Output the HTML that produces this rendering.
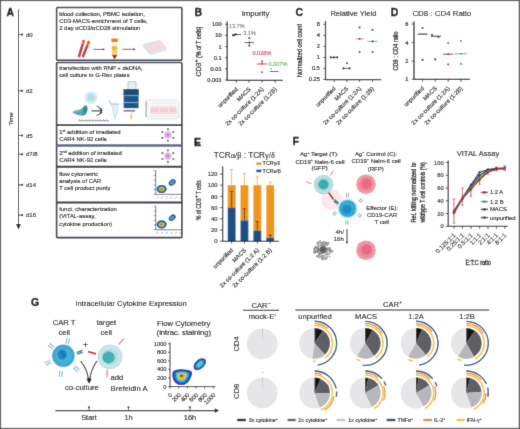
<!DOCTYPE html>
<html><head><meta charset="utf-8"><style>
html,body{margin:0;padding:0;background:#fff;}
svg{display:block;}
#wrap{width:520px;height:429px;overflow:hidden;will-change:transform;}
text{font-family:"Liberation Sans",sans-serif;}
</style></head><body><div id="wrap">
<svg width="520" height="429" viewBox="0 0 520 429">
<defs><filter id="soft" x="0" y="0" width="520" height="429" filterUnits="userSpaceOnUse"><feConvolveMatrix order="3" kernelMatrix="0.01134 0.08382 0.01134 0.08382 0.61935 0.08382 0.01134 0.08382 0.01134" divisor="1" edgeMode="duplicate" preserveAlpha="true"/></filter></defs>
<g filter="url(#soft)">
<rect width="520" height="429" fill="#fff"/>
<text x="6.60" y="15.50" font-size="10.4" stroke="#000" stroke-width="0.35" fill="#000" font-weight="bold" >A</text>
<line x1="18.50" y1="9.50" x2="18.50" y2="225.00" stroke="#231f20" stroke-width="1.0" />
<polygon points="16,224 21,224 18.5,229.5" fill="#231f20"/>
<line x1="18.50" y1="34.60" x2="22.00" y2="34.60" stroke="#231f20" stroke-width="0.8" />
<circle cx="22.10" cy="34.60" r="1.10" fill="#231f20" />
<text x="26.00" y="36.70" font-size="6" stroke="#231f20" stroke-width="0.12" >d0</text>
<line x1="18.50" y1="90.80" x2="22.00" y2="90.80" stroke="#231f20" stroke-width="0.8" />
<circle cx="22.10" cy="90.80" r="1.10" fill="#231f20" />
<text x="26.00" y="92.90" font-size="6" stroke="#231f20" stroke-width="0.12" >d2</text>
<line x1="18.50" y1="135.50" x2="22.00" y2="135.50" stroke="#231f20" stroke-width="0.8" />
<circle cx="22.10" cy="135.50" r="1.10" fill="#231f20" />
<text x="26.00" y="137.60" font-size="6" stroke="#231f20" stroke-width="0.12" >d5</text>
<line x1="18.50" y1="154.30" x2="22.00" y2="154.30" stroke="#231f20" stroke-width="0.8" />
<circle cx="22.10" cy="154.30" r="1.10" fill="#231f20" />
<text x="26.00" y="156.40" font-size="6" stroke="#231f20" stroke-width="0.12" >d7/8</text>
<line x1="18.50" y1="184.80" x2="22.00" y2="184.80" stroke="#231f20" stroke-width="0.8" />
<circle cx="22.10" cy="184.80" r="1.10" fill="#231f20" />
<text x="26.00" y="186.90" font-size="6" stroke="#231f20" stroke-width="0.12" >d14</text>
<line x1="18.50" y1="215.20" x2="22.00" y2="215.20" stroke="#231f20" stroke-width="0.8" />
<circle cx="22.10" cy="215.20" r="1.10" fill="#231f20" />
<text x="26.00" y="217.30" font-size="6" stroke="#231f20" stroke-width="0.12" >d16</text>
<text x="12.50" y="119.00" font-size="6" stroke="#231f20" stroke-width="0.12" text-anchor="middle" transform="rotate(-90 12.50 119.00)" >Time</text>
<rect x="56.6" y="7.5" width="125.3" height="52.8" rx="0.8" fill="none" stroke="#2b3142" stroke-width="1.5"/>
<rect x="56.6" y="62.5" width="125.3" height="175.1" rx="0.8" fill="none" stroke="#2b3142" stroke-width="1.6"/>
<line x1="56.60" y1="125.20" x2="181.90" y2="125.20" stroke="#2b3142" stroke-width="1.7" />
<line x1="56.60" y1="145.50" x2="181.90" y2="145.50" stroke="#5d6782" stroke-width="2.4" />
<line x1="56.60" y1="166.80" x2="181.90" y2="166.80" stroke="#2b3142" stroke-width="2.1" />
<line x1="56.60" y1="202.50" x2="181.90" y2="202.50" stroke="#2b3142" stroke-width="1.9" />
<text x="59.20" y="15.70" font-size="5.9" stroke="#231f20" stroke-width="0.12" >blood collection, PBMC isolation,</text>
<text x="59.20" y="22.60" font-size="5.9" stroke="#231f20" stroke-width="0.12" >CD3-MACS-enrichment of T cells,</text>
<text x="59.20" y="29.50" font-size="5.9" stroke="#231f20" stroke-width="0.12" >2 day &#945;CD3/&#945;CD28 stimulation</text>
<text x="59.20" y="70.20" font-size="5.9" stroke="#231f20" stroke-width="0.12" >transfection with RNP + dsDNA,</text>
<text x="59.20" y="77.25" font-size="5.9" stroke="#231f20" stroke-width="0.12" >cell culture in G-Rex plates</text>
<text x="59.20" y="134.20" font-size="5.9" stroke="#231f20" stroke-width="0.12" >1<tspan font-size="3.8" dy="-2">st</tspan><tspan dy="2"> addition of irradiated</tspan></text>
<text x="59.20" y="141.10" font-size="5.9" stroke="#231f20" stroke-width="0.12" >CAR4 NK-92 cells</text>
<text x="59.20" y="155.10" font-size="5.9" stroke="#231f20" stroke-width="0.12" >2<tspan font-size="3.8" dy="-2">nd</tspan><tspan dy="2"> addition of irradiated</tspan></text>
<text x="59.20" y="162.00" font-size="5.9" stroke="#231f20" stroke-width="0.12" >CAR4 NK-92 cells</text>
<text x="59.20" y="176.00" font-size="5.9" stroke="#231f20" stroke-width="0.12" >flow cytometric</text>
<text x="59.20" y="183.20" font-size="5.9" stroke="#231f20" stroke-width="0.12" >analysis of CAR</text>
<text x="59.20" y="190.40" font-size="5.9" stroke="#231f20" stroke-width="0.12" >T cell product purity</text>
<text x="59.20" y="211.20" font-size="5.9" stroke="#231f20" stroke-width="0.12" >funct. characterization</text>
<text x="59.20" y="218.40" font-size="5.9" stroke="#231f20" stroke-width="0.12" >(VITAL-assay,</text>
<text x="59.20" y="225.60" font-size="5.9" stroke="#231f20" stroke-width="0.12" >cytokine production)</text>
<g transform="translate(78.7,57.4) rotate(16.9)"><rect x="-1.3" y="-18.2" width="2.6" height="18.2" rx="1.2" fill="#c8383c"/><rect x="-1.4" y="-18.2" width="2.8" height="3.2" rx="0.8" fill="#e85a2c"/><rect x="-1.3" y="-14.8" width="2.6" height="0.6" fill="#f4c0b0"/></g>
<g transform="translate(82.6,57.4) rotate(21.9)"><rect x="-1.3" y="-17.7" width="2.6" height="17.7" rx="1.2" fill="#c8383c"/><rect x="-1.4" y="-17.7" width="2.8" height="3.2" rx="0.8" fill="#e85a2c"/><rect x="-1.3" y="-14.3" width="2.6" height="0.6" fill="#f4c0b0"/></g>
<line x1="93.20" y1="49.40" x2="103.50" y2="49.40" stroke="#231f20" stroke-width="0.7" />
<polygon points="102.8,48.3 105,49.4 102.8,50.5" fill="#231f20"/>
<line x1="122.60" y1="49.30" x2="134.30" y2="49.30" stroke="#231f20" stroke-width="0.7" />
<polygon points="133.60000000000002,48.199999999999996 135.8,49.3 133.60000000000002,50.4" fill="#231f20"/>
<rect x="111.4" y="38.4" width="6.4" height="3.9" rx="0.8" fill="#ef7a22"/>
<rect x="111.8" y="42.3" width="5.6" height="3.6" fill="#fbeee0"/>
<rect x="111.8" y="45.9" width="5.6" height="4.5" fill="#f3c531"/>
<rect x="112.6" y="47" width="2.2" height="3" fill="#f0a030" opacity="0.7"/>
<rect x="111.8" y="50.4" width="5.6" height="4.6" fill="#f5d070"/>
<polygon points="111.8,55 117.4,55 114.6,59.6" fill="#8e1b2b"/>
<polygon points="143.3,44.6 159.8,40.2 166.6,48.0 150.2,53.0" fill="#f2dbe0" stroke="#d8c8d0" stroke-width="0.5"/>
<polygon points="143.3,44.6 150.2,53.0 150.4,55.6 143.6,47.4" fill="#cfe2e6"/>
<polygon points="150.2,53.0 166.6,48.0 166.6,50.2 150.4,55.6" fill="#dce9ec"/>
<circle cx="91.00" cy="97.70" r="6.30" fill="#d4eaf2" />
<circle cx="91.00" cy="97.70" r="3.60" fill="#b6dbe8" />
<path d="M72.4,112.2 C75.5,109.6 79.5,110.2 82.2,108.4 C83.8,106.6 85.2,105.0 86.4,105.6 C87.8,106.8 87.8,111.2 86.2,113.4 C84.6,115.4 81.4,116.0 78.6,115.2 C76.2,114.6 74.0,113.6 72.4,112.2 Z" fill="#4eaaae" />
<path d="M82.2,108.4 C83.8,106.6 85.2,105.0 86.4,105.6 C87.8,106.8 87.8,111.2 86.2,113.4 C85.0,115.0 83.2,115.6 81.6,115.6 C84.0,113.2 84.6,110.4 82.2,108.4 Z" fill="#2f8f9c" />
<path d="M72.4,112.2 C75.5,109.6 79.5,110.2 82.2,108.4 C80.5,111.5 77.5,112.6 72.4,112.2 Z" fill="#6cc0c0" />
<line x1="91.40" y1="110.90" x2="101.60" y2="110.90" stroke="#231f20" stroke-width="1.0" />
<line x1="96.60" y1="106.00" x2="101.80" y2="109.20" stroke="#231f20" stroke-width="1.0" />
<line x1="96.60" y1="115.70" x2="101.80" y2="112.60" stroke="#231f20" stroke-width="1.0" />
<polygon points="100.6,109.6 102.9,110.9 100.6,112.2" fill="#231f20"/>
<polygon points="100.4,107.4 102.7,109.9 99.6,109.6" fill="#231f20"/>
<polygon points="100.4,114.4 102.7,111.9 99.6,112.2" fill="#231f20"/>
<path d="M78.5,120.6 q0.75,-1.2 1.5,0 q0.75,1.2 1.5,0 q0.75,-1.2 1.5,0 q0.75,1.2 1.5,0 q0.75,-1.2 1.5,0 q0.75,1.2 1.5,0 q0.75,-1.2 1.5,0 q0.75,1.2 1.5,0 q0.75,-1.2 1.5,0 q0.75,1.2 1.5,0 q0.75,-1.2 1.5,0 q0.75,1.2 1.5,0 q0.75,-1.2 1.5,0 q0.75,1.2 1.5,0 q0.75,-1.2 1.5,0 q0.75,1.2 1.5,0 q0.75,-1.2 1.5,0 q0.75,1.2 1.5,0 q0.75,-1.2 1.5,0 q0.75,1.2 1.5,0" fill="none" stroke="#5e4868" stroke-width="0.9" />
<path d="M108.5,100.5 L111.5,104.5" fill="none" stroke="#b8d4e0" stroke-width="1.4" />
<path d="M111.3,104 L118.8,104 L117.8,108 L115.4,118.8 L114.6,118.8 L112.2,108 Z" fill="#e2f1f7" stroke="#a9c8d6" stroke-width="0.5" />
<rect x="111" y="103.4" width="8.2" height="1.4" fill="#b9d6e2"/>
<rect x="128" y="81.8" width="8" height="7.5" fill="#e8eef4" stroke="#8fa4b8" stroke-width="0.6"/>
<rect x="123.6" y="89.2" width="15" height="19" rx="0.6" fill="#1f5689"/>
<rect x="123.6" y="89.2" width="15" height="5.6" fill="#1b4e80"/>
<rect x="123.6" y="95.2" width="15" height="0.9" fill="#7fb0d8"/>
<rect x="123.6" y="102" width="15" height="0.9" fill="#7fb0d8"/>
<rect x="123.6" y="110.3" width="11.5" height="1.1" fill="#3a3a40"/>
<path d="M131.6,113 L129.8,117.6 L131.4,117.6 L129.6,122 L132.6,116.4 L131,116.4 L132.4,113 Z" fill="#f0a422" />
<path d="M146,100 L177,100 L179,103 L179,117 L177,119 L148,119 L145.5,116 L145.5,102 Z" fill="#f8f8f9" stroke="#d4d8dc" stroke-width="0.7"/>
<line x1="146.20" y1="101.50" x2="146.20" y2="117.00" stroke="#9aa2aa" stroke-width="1.0" />
<line x1="148.00" y1="103.50" x2="177.50" y2="103.50" stroke="#e2e4e8" stroke-width="0.6" />
<rect x="150.5" y="106.4" width="26" height="7.8" fill="#f7d8dc"/>
<rect x="150.5" y="108.5" width="26" height="3.4" fill="#f4ccd2"/>
<line x1="159.50" y1="105.00" x2="159.50" y2="116.00" stroke="#eef0f2" stroke-width="0.7" />
<line x1="168.50" y1="105.00" x2="168.50" y2="116.00" stroke="#eef0f2" stroke-width="0.7" />
<line x1="148.00" y1="116.40" x2="177.50" y2="116.40" stroke="#e0e4e6" stroke-width="0.6" />
<circle cx="167.90" cy="135.00" r="4.20" fill="#efd8f2" />
<circle cx="167.90" cy="135.00" r="2.80" fill="#d6a8e0" />
<circle cx="167.90" cy="135.00" r="1.50" fill="#c290d4" />
<circle cx="173.36" cy="137.90" r="1.10" fill="#6a5670" />
<line x1="171.02" y1="136.80" x2="173.36" y2="137.90" stroke="#e4c8ea" stroke-width="0.5" />
<circle cx="167.90" cy="140.80" r="1.10" fill="#6a5670" />
<line x1="167.90" y1="138.60" x2="167.90" y2="140.80" stroke="#e4c8ea" stroke-width="0.5" />
<circle cx="162.44" cy="137.90" r="1.10" fill="#6a5670" />
<line x1="164.78" y1="136.80" x2="162.44" y2="137.90" stroke="#e4c8ea" stroke-width="0.5" />
<circle cx="162.44" cy="132.10" r="1.10" fill="#6a5670" />
<line x1="164.78" y1="133.20" x2="162.44" y2="132.10" stroke="#e4c8ea" stroke-width="0.5" />
<circle cx="167.90" cy="129.20" r="1.10" fill="#6a5670" />
<line x1="167.90" y1="131.40" x2="167.90" y2="129.20" stroke="#e4c8ea" stroke-width="0.5" />
<circle cx="173.36" cy="132.10" r="1.10" fill="#6a5670" />
<line x1="171.02" y1="133.20" x2="173.36" y2="132.10" stroke="#e4c8ea" stroke-width="0.5" />
<circle cx="167.90" cy="156.10" r="4.20" fill="#efd8f2" />
<circle cx="167.90" cy="156.10" r="2.80" fill="#d6a8e0" />
<circle cx="167.90" cy="156.10" r="1.50" fill="#c290d4" />
<circle cx="173.36" cy="159.00" r="1.10" fill="#6a5670" />
<line x1="171.02" y1="157.90" x2="173.36" y2="159.00" stroke="#e4c8ea" stroke-width="0.5" />
<circle cx="167.90" cy="161.90" r="1.10" fill="#6a5670" />
<line x1="167.90" y1="159.70" x2="167.90" y2="161.90" stroke="#e4c8ea" stroke-width="0.5" />
<circle cx="162.44" cy="159.00" r="1.10" fill="#6a5670" />
<line x1="164.78" y1="157.90" x2="162.44" y2="159.00" stroke="#e4c8ea" stroke-width="0.5" />
<circle cx="162.44" cy="153.20" r="1.10" fill="#6a5670" />
<line x1="164.78" y1="154.30" x2="162.44" y2="153.20" stroke="#e4c8ea" stroke-width="0.5" />
<circle cx="167.90" cy="150.30" r="1.10" fill="#6a5670" />
<line x1="167.90" y1="152.50" x2="167.90" y2="150.30" stroke="#e4c8ea" stroke-width="0.5" />
<circle cx="173.36" cy="153.20" r="1.10" fill="#6a5670" />
<line x1="171.02" y1="154.30" x2="173.36" y2="153.20" stroke="#e4c8ea" stroke-width="0.5" />
<line x1="155.70" y1="170.40" x2="155.70" y2="194.40" stroke="#231f20" stroke-width="0.6" />
<line x1="155.70" y1="194.40" x2="181.00" y2="194.40" stroke="#231f20" stroke-width="0.6" />
<line x1="153.60" y1="170.80" x2="155.70" y2="170.80" stroke="#231f20" stroke-width="0.45" />
<line x1="153.60" y1="175.50" x2="155.70" y2="175.50" stroke="#231f20" stroke-width="0.45" />
<line x1="153.60" y1="180.20" x2="155.70" y2="180.20" stroke="#231f20" stroke-width="0.45" />
<line x1="153.60" y1="184.90" x2="155.70" y2="184.90" stroke="#231f20" stroke-width="0.45" />
<line x1="153.60" y1="189.60" x2="155.70" y2="189.60" stroke="#231f20" stroke-width="0.45" />
<line x1="153.60" y1="194.30" x2="155.70" y2="194.30" stroke="#231f20" stroke-width="0.45" />
<line x1="156.50" y1="198.60" x2="158.30" y2="196.60" stroke="#555" stroke-width="0.5" />
<line x1="161.10" y1="198.60" x2="162.90" y2="196.60" stroke="#555" stroke-width="0.5" />
<line x1="165.70" y1="198.60" x2="167.50" y2="196.60" stroke="#555" stroke-width="0.5" />
<line x1="170.30" y1="198.60" x2="172.10" y2="196.60" stroke="#555" stroke-width="0.5" />
<line x1="174.90" y1="198.60" x2="176.70" y2="196.60" stroke="#555" stroke-width="0.5" />
<line x1="179.50" y1="198.60" x2="181.30" y2="196.60" stroke="#555" stroke-width="0.5" />
<ellipse cx="161.6" cy="189.0" rx="5.0" ry="4.1" fill="#1b3d6e"/>
<ellipse cx="161.6" cy="189.0" rx="3.8" ry="3.0" fill="#2a9ab4"/>
<ellipse cx="161.6" cy="189.1" rx="2.5" ry="2.0" fill="#e9c822"/>
<ellipse cx="161.4" cy="189.2" rx="1.2" ry="1.0" fill="#e04a1c"/>
<ellipse cx="172.2" cy="182.4" rx="3.9" ry="2.7" transform="rotate(-40 172.2 182.4)" fill="#1b3d6e"/>
<ellipse cx="172.2" cy="182.4" rx="2.8" ry="1.7" transform="rotate(-40 172.2 182.4)" fill="#3fa2db"/>
<line x1="155.70" y1="205.80" x2="155.70" y2="229.80" stroke="#231f20" stroke-width="0.6" />
<line x1="155.70" y1="229.80" x2="181.00" y2="229.80" stroke="#231f20" stroke-width="0.6" />
<line x1="153.60" y1="206.20" x2="155.70" y2="206.20" stroke="#231f20" stroke-width="0.45" />
<line x1="153.60" y1="210.90" x2="155.70" y2="210.90" stroke="#231f20" stroke-width="0.45" />
<line x1="153.60" y1="215.60" x2="155.70" y2="215.60" stroke="#231f20" stroke-width="0.45" />
<line x1="153.60" y1="220.30" x2="155.70" y2="220.30" stroke="#231f20" stroke-width="0.45" />
<line x1="153.60" y1="225.00" x2="155.70" y2="225.00" stroke="#231f20" stroke-width="0.45" />
<line x1="153.60" y1="229.70" x2="155.70" y2="229.70" stroke="#231f20" stroke-width="0.45" />
<line x1="156.50" y1="234.00" x2="158.30" y2="232.00" stroke="#555" stroke-width="0.5" />
<line x1="161.10" y1="234.00" x2="162.90" y2="232.00" stroke="#555" stroke-width="0.5" />
<line x1="165.70" y1="234.00" x2="167.50" y2="232.00" stroke="#555" stroke-width="0.5" />
<line x1="170.30" y1="234.00" x2="172.10" y2="232.00" stroke="#555" stroke-width="0.5" />
<line x1="174.90" y1="234.00" x2="176.70" y2="232.00" stroke="#555" stroke-width="0.5" />
<line x1="179.50" y1="234.00" x2="181.30" y2="232.00" stroke="#555" stroke-width="0.5" />
<ellipse cx="161.6" cy="224.4" rx="5.0" ry="4.1" fill="#1b3d6e"/>
<ellipse cx="161.6" cy="224.4" rx="3.8" ry="3.0" fill="#2a9ab4"/>
<ellipse cx="161.6" cy="224.5" rx="2.5" ry="2.0" fill="#e9c822"/>
<ellipse cx="161.4" cy="224.6" rx="1.2" ry="1.0" fill="#e04a1c"/>
<ellipse cx="172.2" cy="217.8" rx="3.9" ry="2.7" transform="rotate(-40 172.2 217.8)" fill="#1b3d6e"/>
<ellipse cx="172.2" cy="217.8" rx="2.8" ry="1.7" transform="rotate(-40 172.2 217.8)" fill="#3fa2db"/>
<text x="194.50" y="16.00" font-size="10.5" stroke="#000" stroke-width="0.35" fill="#000" font-weight="bold" >B</text>
<text x="295.50" y="16.00" font-size="10.5" stroke="#000" stroke-width="0.35" fill="#000" font-weight="bold" >C</text>
<text x="390.80" y="16.00" font-size="10.5" stroke="#000" stroke-width="0.35" fill="#000" font-weight="bold" >D</text>
<text x="255.50" y="16.40" font-size="7.8" stroke="#231f20" stroke-width="0.12" text-anchor="middle" >Impurity</text>
<text x="353.40" y="16.10" font-size="7.6" stroke="#231f20" stroke-width="0.12" text-anchor="middle" >Relative Yield</text>
<text x="441.80" y="16.00" font-size="7.9" stroke="#231f20" stroke-width="0.12" text-anchor="middle" >CD8 : CD4 Ratio</text>
<line x1="227.20" y1="21.60" x2="227.20" y2="80.30" stroke="#231f20" stroke-width="1.25" />
<line x1="225.00" y1="24.30" x2="227.20" y2="24.30" stroke="#231f20" stroke-width="0.8" />
<text x="221.60" y="26.30" font-size="5.7" stroke="#231f20" stroke-width="0.18" text-anchor="end" >100</text>
<line x1="225.00" y1="35.40" x2="227.20" y2="35.40" stroke="#231f20" stroke-width="0.8" />
<text x="221.60" y="37.40" font-size="5.7" stroke="#231f20" stroke-width="0.18" text-anchor="end" >10</text>
<line x1="225.00" y1="46.50" x2="227.20" y2="46.50" stroke="#231f20" stroke-width="0.8" />
<text x="221.60" y="48.50" font-size="5.7" stroke="#231f20" stroke-width="0.18" text-anchor="end" >1</text>
<line x1="225.00" y1="57.70" x2="227.20" y2="57.70" stroke="#231f20" stroke-width="0.8" />
<text x="221.60" y="59.70" font-size="5.7" stroke="#231f20" stroke-width="0.18" text-anchor="end" >0.1</text>
<line x1="225.00" y1="68.80" x2="227.20" y2="68.80" stroke="#231f20" stroke-width="0.8" />
<text x="221.60" y="70.80" font-size="5.7" stroke="#231f20" stroke-width="0.18" text-anchor="end" >0.01</text>
<line x1="225.00" y1="80.00" x2="227.20" y2="80.00" stroke="#231f20" stroke-width="0.8" />
<text x="221.60" y="82.00" font-size="5.7" stroke="#231f20" stroke-width="0.18" text-anchor="end" >0.001</text>
<line x1="226.80" y1="80.30" x2="282.80" y2="80.30" stroke="#231f20" stroke-width="1.25" />
<line x1="236.30" y1="80.30" x2="236.30" y2="82.70" stroke="#231f20" stroke-width="0.8" />
<text x="238.30" y="89.70" font-size="5.9" stroke="#231f20" stroke-width="0.12" text-anchor="end" transform="rotate(-45 238.30 89.70)" >unpurified</text>
<line x1="249.00" y1="80.30" x2="249.00" y2="82.70" stroke="#231f20" stroke-width="0.8" />
<text x="251.00" y="89.70" font-size="5.9" stroke="#231f20" stroke-width="0.12" text-anchor="end" transform="rotate(-45 251.00 89.70)" >MACS</text>
<line x1="262.00" y1="80.30" x2="262.00" y2="82.70" stroke="#231f20" stroke-width="0.8" />
<text x="264.00" y="89.70" font-size="5.9" stroke="#231f20" stroke-width="0.12" text-anchor="end" transform="rotate(-45 264.00 89.70)" >2x co-culture (1:2A)</text>
<line x1="275.10" y1="80.30" x2="275.10" y2="82.70" stroke="#231f20" stroke-width="0.8" />
<text x="277.10" y="89.70" font-size="5.9" stroke="#231f20" stroke-width="0.12" text-anchor="end" transform="rotate(-45 277.10 89.70)" >2x co-culture (1:2B)</text>
<text transform="translate(201.2,51.6) rotate(-90)" text-anchor="middle" font-size="7" fill="#231f20" stroke="#231f20" stroke-width="0.3">CD3<tspan font-size="5.2" dy="-3">+</tspan><tspan font-size="6.4" dy="3" textLength="33" lengthAdjust="spacingAndGlyphs"> (% of T cells)</tspan></text>
<line x1="232.20" y1="34.60" x2="241.00" y2="34.60" stroke="#2b2b2b" stroke-width="0.9" />
<circle cx="233.20" cy="35.40" r="1.05" fill="#2b2b2b" />
<circle cx="235.80" cy="34.20" r="1.05" fill="#2b2b2b" />
<circle cx="234.60" cy="34.90" r="1.05" fill="#2b2b2b" />
<text x="228.80" y="28.40" font-size="5.6" stroke="#7c7290" stroke-width="0.12" fill="#7c7290" >13.7%</text>
<text x="243.20" y="34.90" font-size="5.6" stroke="#7c6c94" stroke-width="0.12" fill="#7c6c94" >3.1%</text>
<line x1="244.80" y1="42.60" x2="254.00" y2="42.60" stroke="#3c2a58" stroke-width="0.9" />
<circle cx="249.30" cy="38.10" r="1.05" fill="#3c2a58" />
<circle cx="249.30" cy="45.60" r="1.05" fill="#3c2a58" />
<circle cx="249.30" cy="42.60" r="1.05" fill="#3c2a58" />
<text x="252.40" y="55.20" font-size="5.6" stroke="#d4405c" stroke-width="0.12" fill="#d4405c" >0.028%</text>
<line x1="257.00" y1="64.00" x2="267.20" y2="64.00" stroke="#c0304c" stroke-width="0.9" />
<circle cx="262.00" cy="61.20" r="1.05" fill="#c0304c" />
<circle cx="262.00" cy="72.30" r="1.05" fill="#c0304c" />
<circle cx="262.00" cy="63.60" r="1.05" fill="#c0304c" />
<text x="268.40" y="65.60" font-size="5.6" stroke="#5cb85c" stroke-width="0.12" fill="#5cb85c" >0.007%</text>
<line x1="269.80" y1="71.50" x2="278.50" y2="71.50" stroke="#263a2a" stroke-width="0.9" />
<circle cx="271.00" cy="68.80" r="0.80" fill="#3aa05a" />
<line x1="325.50" y1="20.80" x2="325.50" y2="79.60" stroke="#231f20" stroke-width="1.25" />
<line x1="323.30" y1="24.30" x2="325.50" y2="24.30" stroke="#231f20" stroke-width="0.8" />
<text x="319.80" y="26.30" font-size="5.7" stroke="#231f20" stroke-width="0.18" text-anchor="end" >8</text>
<line x1="323.30" y1="35.40" x2="325.50" y2="35.40" stroke="#231f20" stroke-width="0.8" />
<text x="319.80" y="37.40" font-size="5.7" stroke="#231f20" stroke-width="0.18" text-anchor="end" >4</text>
<line x1="323.30" y1="46.40" x2="325.50" y2="46.40" stroke="#231f20" stroke-width="0.8" />
<text x="319.80" y="48.40" font-size="5.7" stroke="#231f20" stroke-width="0.18" text-anchor="end" >2</text>
<line x1="323.30" y1="57.40" x2="325.50" y2="57.40" stroke="#231f20" stroke-width="0.8" />
<text x="319.80" y="59.40" font-size="5.7" stroke="#231f20" stroke-width="0.18" text-anchor="end" >1</text>
<line x1="323.30" y1="68.40" x2="325.50" y2="68.40" stroke="#231f20" stroke-width="0.8" />
<text x="319.80" y="70.40" font-size="5.7" stroke="#231f20" stroke-width="0.18" text-anchor="end" >0.5</text>
<line x1="323.30" y1="79.40" x2="325.50" y2="79.40" stroke="#231f20" stroke-width="0.8" />
<text x="319.80" y="81.40" font-size="5.7" stroke="#231f20" stroke-width="0.18" text-anchor="end" >0.25</text>
<line x1="325.10" y1="79.60" x2="381.20" y2="79.60" stroke="#231f20" stroke-width="1.25" />
<line x1="334.20" y1="79.60" x2="334.20" y2="82.00" stroke="#231f20" stroke-width="0.8" />
<text x="336.20" y="89.00" font-size="5.9" stroke="#231f20" stroke-width="0.12" text-anchor="end" transform="rotate(-45 336.20 89.00)" >unpurified</text>
<line x1="346.90" y1="79.60" x2="346.90" y2="82.00" stroke="#231f20" stroke-width="0.8" />
<text x="348.90" y="89.00" font-size="5.9" stroke="#231f20" stroke-width="0.12" text-anchor="end" transform="rotate(-45 348.90 89.00)" >MACS</text>
<line x1="359.60" y1="79.60" x2="359.60" y2="82.00" stroke="#231f20" stroke-width="0.8" />
<text x="361.60" y="89.00" font-size="5.9" stroke="#231f20" stroke-width="0.12" text-anchor="end" transform="rotate(-45 361.60 89.00)" >2x co-culture (1:2A)</text>
<line x1="372.50" y1="79.60" x2="372.50" y2="82.00" stroke="#231f20" stroke-width="0.8" />
<text x="374.50" y="89.00" font-size="5.9" stroke="#231f20" stroke-width="0.12" text-anchor="end" transform="rotate(-45 374.50 89.00)" >2x co-culture (1:2B)</text>
<text x="302.40" y="50.50" font-size="7.2" stroke="#231f20" stroke-width="0.28" text-anchor="middle" textLength="53" lengthAdjust="spacingAndGlyphs" transform="rotate(-90 302.40 50.50)" >Normalized cell count</text>
<line x1="330.40" y1="57.40" x2="337.60" y2="57.40" stroke="#2b2b2b" stroke-width="0.9" />
<circle cx="330.70" cy="57.40" r="1.05" fill="#2b2b2b" />
<circle cx="334.00" cy="57.40" r="1.05" fill="#2b2b2b" />
<circle cx="337.20" cy="57.40" r="1.05" fill="#2b2b2b" />
<circle cx="346.90" cy="63.20" r="1.05" fill="#2b2b2b" />
<line x1="343.20" y1="68.40" x2="349.80" y2="68.40" stroke="#2b2b2b" stroke-width="0.9" />
<circle cx="343.40" cy="68.40" r="1.05" fill="#2b2b2b" />
<circle cx="349.60" cy="68.40" r="1.05" fill="#2b2b2b" />
<circle cx="359.60" cy="27.40" r="1.05" fill="#8c2a40" />
<circle cx="359.60" cy="52.10" r="1.05" fill="#8c2a40" />
<line x1="355.60" y1="38.90" x2="364.00" y2="38.90" stroke="#e27a8a" stroke-width="0.9" />
<circle cx="359.60" cy="38.90" r="1.05" fill="#8c2a40" />
<circle cx="372.50" cy="29.90" r="1.05" fill="#245a58" />
<circle cx="372.50" cy="52.10" r="1.05" fill="#245a58" />
<line x1="367.40" y1="41.40" x2="377.60" y2="41.40" stroke="#5ab4aa" stroke-width="0.9" />
<circle cx="372.50" cy="41.40" r="1.05" fill="#245a58" />
<line x1="414.00" y1="21.40" x2="414.00" y2="79.40" stroke="#231f20" stroke-width="1.25" />
<line x1="411.80" y1="24.00" x2="414.00" y2="24.00" stroke="#231f20" stroke-width="0.8" />
<text x="408.40" y="26.00" font-size="5.7" stroke="#231f20" stroke-width="0.18" text-anchor="end" >6</text>
<line x1="411.80" y1="42.60" x2="414.00" y2="42.60" stroke="#231f20" stroke-width="0.8" />
<text x="408.40" y="44.60" font-size="5.7" stroke="#231f20" stroke-width="0.18" text-anchor="end" >4</text>
<line x1="411.80" y1="61.20" x2="414.00" y2="61.20" stroke="#231f20" stroke-width="0.8" />
<text x="408.40" y="63.20" font-size="5.7" stroke="#231f20" stroke-width="0.18" text-anchor="end" >2</text>
<line x1="411.80" y1="79.20" x2="414.00" y2="79.20" stroke="#231f20" stroke-width="0.8" />
<text x="408.40" y="81.20" font-size="5.7" stroke="#231f20" stroke-width="0.18" text-anchor="end" >1</text>
<line x1="413.60" y1="79.40" x2="470.00" y2="79.40" stroke="#231f20" stroke-width="1.25" />
<line x1="422.50" y1="79.40" x2="422.50" y2="81.80" stroke="#231f20" stroke-width="0.8" />
<text x="424.50" y="88.80" font-size="5.9" stroke="#231f20" stroke-width="0.12" text-anchor="end" transform="rotate(-45 424.50 88.80)" >unpurified</text>
<line x1="435.20" y1="79.40" x2="435.20" y2="81.80" stroke="#231f20" stroke-width="0.8" />
<text x="437.20" y="88.80" font-size="5.9" stroke="#231f20" stroke-width="0.12" text-anchor="end" transform="rotate(-45 437.20 88.80)" >MACS</text>
<line x1="448.20" y1="79.40" x2="448.20" y2="81.80" stroke="#231f20" stroke-width="0.8" />
<text x="450.20" y="88.80" font-size="5.9" stroke="#231f20" stroke-width="0.12" text-anchor="end" transform="rotate(-45 450.20 88.80)" >2x co-culture (1:2A)</text>
<line x1="461.00" y1="79.40" x2="461.00" y2="81.80" stroke="#231f20" stroke-width="0.8" />
<text x="463.00" y="88.80" font-size="5.9" stroke="#231f20" stroke-width="0.12" text-anchor="end" transform="rotate(-45 463.00 88.80)" >2x co-culture (1:2B)</text>
<text x="398.40" y="50.90" font-size="7.2" stroke="#231f20" stroke-width="0.28" text-anchor="middle" textLength="39" lengthAdjust="spacingAndGlyphs" transform="rotate(-90 398.40 50.90)" >CD8 : CD4 ratio</text>
<circle cx="422.50" cy="28.00" r="1.05" fill="#2b2b2b" />
<circle cx="422.50" cy="59.90" r="1.05" fill="#2b2b2b" />
<line x1="417.80" y1="34.10" x2="427.40" y2="34.10" stroke="#111" stroke-width="1.0" />
<circle cx="431.90" cy="34.90" r="1.05" fill="#2b2b2b" />
<circle cx="438.40" cy="37.00" r="1.05" fill="#2b2b2b" />
<circle cx="435.20" cy="59.40" r="1.05" fill="#2b2b2b" />
<line x1="431.20" y1="36.20" x2="441.00" y2="36.20" stroke="#2a2448" stroke-width="1.0" />
<circle cx="448.20" cy="43.10" r="1.05" fill="#c0304c" />
<circle cx="448.20" cy="64.40" r="1.05" fill="#c0304c" />
<line x1="443.00" y1="54.20" x2="453.40" y2="54.20" stroke="#b02a44" stroke-width="1.0" />
<circle cx="448.20" cy="54.20" r="1.05" fill="#8c2a40" />
<circle cx="461.00" cy="41.10" r="1.05" fill="#3a9a5a" />
<circle cx="461.00" cy="63.90" r="1.05" fill="#3a9a5a" />
<line x1="455.00" y1="53.80" x2="467.00" y2="53.80" stroke="#4aaa6a" stroke-width="0.9" />
<circle cx="461.00" cy="53.80" r="0.80" fill="#2a6a4a" />
<text x="193.90" y="145.60" font-size="10.5" stroke="#000" stroke-width="0.35" fill="#000" font-weight="bold" >E</text>
<text x="244.30" y="158.40" font-size="8.2" stroke="#231f20" stroke-width="0.12" text-anchor="middle" >TCR<tspan font-family="Liberation Serif">&#945;/&#946;</tspan> : TCR<tspan font-family="Liberation Serif">&#947;/&#948;</tspan></text>
<line x1="222.70" y1="166.20" x2="222.70" y2="241.20" stroke="#231f20" stroke-width="1.1" />
<line x1="220.00" y1="241.20" x2="222.70" y2="241.20" stroke="#231f20" stroke-width="0.8" />
<text x="217.60" y="243.30" font-size="5.9" stroke="#231f20" stroke-width="0.12" text-anchor="end" >0</text>
<line x1="220.00" y1="230.00" x2="222.70" y2="230.00" stroke="#231f20" stroke-width="0.8" />
<text x="217.60" y="232.10" font-size="5.9" stroke="#231f20" stroke-width="0.12" text-anchor="end" >20</text>
<line x1="220.00" y1="218.80" x2="222.70" y2="218.80" stroke="#231f20" stroke-width="0.8" />
<text x="217.60" y="220.90" font-size="5.9" stroke="#231f20" stroke-width="0.12" text-anchor="end" >40</text>
<line x1="220.00" y1="207.60" x2="222.70" y2="207.60" stroke="#231f20" stroke-width="0.8" />
<text x="217.60" y="209.70" font-size="5.9" stroke="#231f20" stroke-width="0.12" text-anchor="end" >60</text>
<line x1="220.00" y1="196.40" x2="222.70" y2="196.40" stroke="#231f20" stroke-width="0.8" />
<text x="217.60" y="198.50" font-size="5.9" stroke="#231f20" stroke-width="0.12" text-anchor="end" >80</text>
<line x1="220.00" y1="185.20" x2="222.70" y2="185.20" stroke="#231f20" stroke-width="0.8" />
<text x="217.60" y="187.30" font-size="5.9" stroke="#231f20" stroke-width="0.12" text-anchor="end" >100</text>
<line x1="220.00" y1="174.00" x2="222.70" y2="174.00" stroke="#231f20" stroke-width="0.8" />
<text x="217.60" y="176.10" font-size="5.9" stroke="#231f20" stroke-width="0.12" text-anchor="end" >120</text>
<rect x="227.70" y="185.20" width="7.90" height="22.40" fill="#f0961e" />
<rect x="227.70" y="207.60" width="7.90" height="33.60" fill="#1d4f86" />
<line x1="231.65" y1="185.20" x2="231.65" y2="169.52" stroke="#f0961e" stroke-width="0.7" />
<line x1="230.05" y1="169.52" x2="233.25" y2="169.52" stroke="#f0961e" stroke-width="0.7" />
<line x1="231.65" y1="207.60" x2="231.65" y2="191.36" stroke="#2a2a3a" stroke-width="0.7" />
<line x1="230.05" y1="191.36" x2="233.25" y2="191.36" stroke="#2a2a3a" stroke-width="0.7" />
<rect x="240.50" y="185.20" width="7.90" height="35.28" fill="#f0961e" />
<rect x="240.50" y="220.48" width="7.90" height="20.72" fill="#1d4f86" />
<line x1="244.45" y1="185.20" x2="244.45" y2="173.44" stroke="#f0961e" stroke-width="0.7" />
<line x1="242.85" y1="173.44" x2="246.05" y2="173.44" stroke="#f0961e" stroke-width="0.7" />
<line x1="244.45" y1="220.48" x2="244.45" y2="208.72" stroke="#2a2a3a" stroke-width="0.7" />
<line x1="242.85" y1="208.72" x2="246.05" y2="208.72" stroke="#2a2a3a" stroke-width="0.7" />
<rect x="253.40" y="185.20" width="7.90" height="45.36" fill="#f0961e" />
<rect x="253.40" y="230.56" width="7.90" height="10.64" fill="#1d4f86" />
<line x1="257.35" y1="185.20" x2="257.35" y2="176.80" stroke="#f0961e" stroke-width="0.7" />
<line x1="255.75" y1="176.80" x2="258.95" y2="176.80" stroke="#f0961e" stroke-width="0.7" />
<line x1="257.35" y1="230.56" x2="257.35" y2="221.60" stroke="#2a2a3a" stroke-width="0.7" />
<line x1="255.75" y1="221.60" x2="258.95" y2="221.60" stroke="#2a2a3a" stroke-width="0.7" />
<rect x="266.30" y="185.20" width="7.90" height="52.64" fill="#f0961e" />
<rect x="266.30" y="237.84" width="7.90" height="3.36" fill="#1d4f86" />
<line x1="270.25" y1="185.20" x2="270.25" y2="182.40" stroke="#f0961e" stroke-width="0.7" />
<line x1="268.65" y1="182.40" x2="271.85" y2="182.40" stroke="#f0961e" stroke-width="0.7" />
<line x1="270.25" y1="237.84" x2="270.25" y2="235.04" stroke="#2a2a3a" stroke-width="0.7" />
<line x1="268.65" y1="235.04" x2="271.85" y2="235.04" stroke="#2a2a3a" stroke-width="0.7" />
<line x1="222.20" y1="241.20" x2="279.00" y2="241.20" stroke="#231f20" stroke-width="1.1" />
<line x1="231.65" y1="241.20" x2="231.65" y2="243.60" stroke="#231f20" stroke-width="0.8" />
<text x="233.65" y="250.60" font-size="5.9" stroke="#231f20" stroke-width="0.12" text-anchor="end" transform="rotate(-45 233.65 250.60)" >unpurified</text>
<line x1="244.45" y1="241.20" x2="244.45" y2="243.60" stroke="#231f20" stroke-width="0.8" />
<text x="246.45" y="250.60" font-size="5.9" stroke="#231f20" stroke-width="0.12" text-anchor="end" transform="rotate(-45 246.45 250.60)" >MACS</text>
<line x1="257.35" y1="241.20" x2="257.35" y2="243.60" stroke="#231f20" stroke-width="0.8" />
<text x="259.35" y="250.60" font-size="5.9" stroke="#231f20" stroke-width="0.12" text-anchor="end" transform="rotate(-45 259.35 250.60)" >2x co-culture (1:2 A)</text>
<line x1="270.25" y1="241.20" x2="270.25" y2="243.60" stroke="#231f20" stroke-width="0.8" />
<text x="272.25" y="250.60" font-size="5.9" stroke="#231f20" stroke-width="0.12" text-anchor="end" transform="rotate(-45 272.25 250.60)" >2x co-culture (1:2 B)</text>
<rect x="256.40" y="162.40" width="5.00" height="2.60" fill="#f0961e" />
<text x="262.60" y="165.30" font-size="5.4" stroke="#231f20" stroke-width="0.12" >TCR<tspan font-family="Liberation Serif">&#947;/&#948;</tspan></text>
<rect x="256.40" y="169.60" width="5.00" height="2.60" fill="#1d4f86" />
<text x="262.60" y="172.50" font-size="5.4" stroke="#231f20" stroke-width="0.12" >TCR<tspan font-family="Liberation Serif">&#945;/&#946;</tspan></text>
<text transform="translate(200.8,200.4) rotate(-90)" text-anchor="middle" font-size="8" fill="#231f20" stroke="#231f20" stroke-width="0.3"><tspan textLength="22" lengthAdjust="spacingAndGlyphs">% of CD3</tspan><tspan font-size="5" dy="-2.8">+</tspan><tspan dy="2.8" textLength="15" lengthAdjust="spacingAndGlyphs"> T cells</tspan></text>
<text x="292.40" y="145.40" font-size="10.5" stroke="#000" stroke-width="0.35" fill="#000" font-weight="bold" >F</text>
<text x="319.30" y="156.20" font-size="6" stroke="#231f20" stroke-width="0.12" text-anchor="middle" >Ag<tspan font-size="3.8" dy="-2.2">+</tspan><tspan dy="2.2"> Target (T):</tspan></text>
<text x="320.00" y="163.60" font-size="6" stroke="#231f20" stroke-width="0.12" text-anchor="middle" >CD19<tspan font-size="3.8" dy="-2.2">+</tspan><tspan dy="2.2"> Nalm-6 cell</tspan></text>
<text x="319.60" y="170.40" font-size="6" stroke="#231f20" stroke-width="0.12" text-anchor="middle" >(GFP)</text>
<text x="376.10" y="156.00" font-size="6" stroke="#231f20" stroke-width="0.12" text-anchor="middle" >Ag<tspan font-size="3.8" dy="-2.2">&#8722;</tspan><tspan dy="2.2"> Control (C):</tspan></text>
<text x="376.10" y="163.40" font-size="6" stroke="#231f20" stroke-width="0.12" text-anchor="middle" >CD19<tspan font-size="3.8" dy="-2.2">&#8722;</tspan><tspan dy="2.2"> Nalm-6 cell</tspan></text>
<text x="375.70" y="170.70" font-size="6" stroke="#231f20" stroke-width="0.12" text-anchor="middle" >(RFP)</text>
<text x="382.20" y="210.00" font-size="6" stroke="#231f20" stroke-width="0.12" text-anchor="middle" >Effector (E):</text>
<text x="382.00" y="217.20" font-size="6" stroke="#231f20" stroke-width="0.12" text-anchor="middle" >CD19-CAR</text>
<text x="381.70" y="224.00" font-size="6" stroke="#231f20" stroke-width="0.12" text-anchor="middle" >T cell</text>
<text x="343.80" y="234.00" font-size="6" stroke="#231f20" stroke-width="0.12" text-anchor="end" >4h/</text>
<text x="343.80" y="240.80" font-size="6" stroke="#231f20" stroke-width="0.12" text-anchor="end" >16h</text>
<line x1="347.00" y1="229.00" x2="347.00" y2="242.40" stroke="#231f20" stroke-width="0.9" />
<circle cx="347.00" cy="242.60" r="1.00" fill="#231f20" />
<defs><radialGradient id="halo_p"><stop offset="0" stop-color="#fdeef1"/><stop offset="0.8" stop-color="#fce6ea"/><stop offset="1" stop-color="#fdeef1" stop-opacity="0"/></radialGradient><radialGradient id="halo_b"><stop offset="0.7" stop-color="#cdeef9"/><stop offset="1" stop-color="#eaf7fc" stop-opacity="0"/></radialGradient></defs>
<circle cx="331.50" cy="199.50" r="11.50" fill="url(#halo_p)" />
<line x1="330.30" y1="175.50" x2="333.60" y2="170.60" stroke="#e89aaa" stroke-width="1.3" />
<line x1="306.20" y1="182.20" x2="311.50" y2="183.60" stroke="#e89aaa" stroke-width="1.3" />
<circle cx="323.50" cy="184.50" r="9.80" fill="#a9d6da" />
<circle cx="323.50" cy="184.50" r="8.80" fill="#bfe2e5" />
<circle cx="323.50" cy="184.50" r="7.00" fill="#a8d6da" />
<circle cx="323.50" cy="184.50" r="5.00" fill="#36aead" />
<line x1="328.80" y1="192.60" x2="333.30" y2="199.40" stroke="#a8102a" stroke-width="1.7" />
<line x1="334.20" y1="199.60" x2="338.80" y2="203.00" stroke="#1c6a62" stroke-width="1.3" />
<line x1="333.60" y1="201.00" x2="338.20" y2="204.40" stroke="#1c6a62" stroke-width="1.3" />
<circle cx="347.60" cy="208.60" r="12.00" fill="url(#halo_b)" />
<line x1="348.50" y1="193.00" x2="348.50" y2="197.40" stroke="#98aab4" stroke-width="1.05" />
<line x1="346.50" y1="193.00" x2="346.50" y2="197.40" stroke="#98aab4" stroke-width="1.05" />
<line x1="362.86" y1="199.75" x2="359.75" y2="202.86" stroke="#98aab4" stroke-width="1.05" />
<line x1="361.45" y1="198.34" x2="358.34" y2="201.45" stroke="#98aab4" stroke-width="1.05" />
<line x1="358.95" y1="213.34" x2="362.06" y2="216.45" stroke="#98aab4" stroke-width="1.05" />
<line x1="357.54" y1="214.75" x2="360.65" y2="217.86" stroke="#98aab4" stroke-width="1.05" />
<line x1="347.80" y1="220.20" x2="347.80" y2="224.60" stroke="#98aab4" stroke-width="1.05" />
<line x1="345.80" y1="220.20" x2="345.80" y2="224.60" stroke="#98aab4" stroke-width="1.05" />
<line x1="336.86" y1="212.75" x2="333.75" y2="215.86" stroke="#98aab4" stroke-width="1.05" />
<line x1="335.45" y1="211.34" x2="332.34" y2="214.45" stroke="#98aab4" stroke-width="1.05" />
<circle cx="347.60" cy="208.60" r="9.20" fill="#78cdea" />
<circle cx="347.60" cy="208.60" r="8.20" fill="#2ea6d4" />
<circle cx="347.60" cy="208.60" r="6.40" fill="#35acd9" />
<circle cx="347.00" cy="209.30" r="4.60" fill="#1c8cc2" />
<circle cx="317.81" cy="244.45" r="0.72" fill="#b0b0b0" />
<circle cx="314.70" cy="251.81" r="1.33" fill="#8c8c8c" />
<circle cx="328.00" cy="253.86" r="0.97" fill="#9a9a9a" />
<circle cx="326.84" cy="252.46" r="0.99" fill="#9a9a9a" />
<circle cx="326.92" cy="257.64" r="0.81" fill="#a6a6a6" />
<circle cx="324.31" cy="246.93" r="1.01" fill="#b0b0b0" />
<circle cx="329.51" cy="256.59" r="0.85" fill="#8c8c8c" />
<circle cx="325.36" cy="258.80" r="0.90" fill="#9a9a9a" />
<circle cx="329.76" cy="248.33" r="0.83" fill="#9a9a9a" />
<circle cx="327.09" cy="249.16" r="0.91" fill="#a6a6a6" />
<circle cx="321.20" cy="252.52" r="0.88" fill="#9a9a9a" />
<circle cx="319.35" cy="257.07" r="0.70" fill="#b0b0b0" />
<circle cx="321.18" cy="245.35" r="0.95" fill="#868686" />
<circle cx="320.80" cy="256.98" r="1.04" fill="#9a9a9a" />
<circle cx="322.87" cy="248.07" r="1.36" fill="#8c8c8c" />
<circle cx="319.90" cy="254.26" r="1.25" fill="#b0b0b0" />
<circle cx="318.86" cy="254.97" r="1.02" fill="#8c8c8c" />
<circle cx="321.54" cy="243.05" r="0.78" fill="#9a9a9a" />
<circle cx="323.60" cy="258.14" r="0.94" fill="#a6a6a6" />
<circle cx="319.45" cy="255.00" r="0.78" fill="#a6a6a6" />
<circle cx="323.32" cy="241.78" r="0.73" fill="#868686" />
<circle cx="325.72" cy="249.08" r="1.06" fill="#868686" />
<circle cx="321.31" cy="252.35" r="1.35" fill="#868686" />
<circle cx="318.74" cy="248.54" r="0.91" fill="#868686" />
<circle cx="325.55" cy="243.12" r="1.40" fill="#868686" />
<circle cx="324.32" cy="251.38" r="1.07" fill="#b0b0b0" />
<circle cx="319.94" cy="252.23" r="0.94" fill="#b0b0b0" />
<circle cx="323.39" cy="257.17" r="0.74" fill="#9a9a9a" />
<circle cx="324.61" cy="249.19" r="0.93" fill="#a6a6a6" />
<circle cx="325.83" cy="258.68" r="1.36" fill="#b0b0b0" />
<circle cx="317.89" cy="244.00" r="0.82" fill="#8c8c8c" />
<circle cx="322.05" cy="251.29" r="0.91" fill="#a6a6a6" />
<circle cx="314.60" cy="252.57" r="1.38" fill="#9a9a9a" />
<circle cx="317.46" cy="251.68" r="1.04" fill="#868686" />
<circle cx="321.98" cy="255.30" r="0.78" fill="#9a9a9a" />
<circle cx="326.24" cy="244.05" r="1.14" fill="#9a9a9a" />
<circle cx="318.33" cy="249.92" r="1.04" fill="#8c8c8c" />
<circle cx="316.82" cy="249.27" r="0.95" fill="#b0b0b0" />
<circle cx="325.19" cy="242.11" r="1.16" fill="#b0b0b0" />
<circle cx="323.72" cy="244.64" r="1.28" fill="#868686" />
<circle cx="322.55" cy="258.96" r="1.37" fill="#868686" />
<circle cx="321.49" cy="252.91" r="1.03" fill="#8c8c8c" />
<circle cx="324.14" cy="244.99" r="1.02" fill="#868686" />
<circle cx="326.35" cy="243.28" r="0.94" fill="#868686" />
<circle cx="318.59" cy="243.78" r="0.95" fill="#a6a6a6" />
<circle cx="328.10" cy="242.79" r="1.38" fill="#a6a6a6" />
<circle cx="329.57" cy="248.17" r="1.39" fill="#b0b0b0" />
<circle cx="325.07" cy="254.89" r="0.90" fill="#a6a6a6" />
<circle cx="329.90" cy="253.41" r="0.82" fill="#a6a6a6" />
<circle cx="324.69" cy="243.20" r="0.91" fill="#a6a6a6" />
<circle cx="315.36" cy="247.11" r="1.20" fill="#868686" />
<circle cx="326.71" cy="250.48" r="1.14" fill="#a6a6a6" />
<circle cx="326.73" cy="257.07" r="1.14" fill="#9a9a9a" />
<circle cx="329.28" cy="251.48" r="0.82" fill="#9a9a9a" />
<circle cx="325.53" cy="248.18" r="1.04" fill="#9a9a9a" />
<circle cx="317.98" cy="248.20" r="0.97" fill="#868686" />
<circle cx="318.15" cy="245.45" r="1.20" fill="#9a9a9a" />
<circle cx="319.77" cy="253.58" r="1.30" fill="#868686" />
<circle cx="328.41" cy="244.32" r="0.96" fill="#b0b0b0" />
<circle cx="330.25" cy="251.48" r="0.91" fill="#8c8c8c" />
<circle cx="314.48" cy="249.19" r="1.37" fill="#868686" />
<circle cx="325.78" cy="244.72" r="1.15" fill="#b0b0b0" />
<circle cx="321.25" cy="252.20" r="0.97" fill="#b0b0b0" />
<circle cx="319.65" cy="250.44" r="1.13" fill="#9a9a9a" />
<circle cx="318.27" cy="256.86" r="0.97" fill="#8c8c8c" />
<circle cx="319.37" cy="257.69" r="0.80" fill="#b0b0b0" />
<circle cx="317.47" cy="243.63" r="1.00" fill="#a6a6a6" />
<circle cx="329.57" cy="248.99" r="1.38" fill="#a6a6a6" />
<circle cx="316.85" cy="256.07" r="1.12" fill="#9a9a9a" />
<circle cx="322.84" cy="258.99" r="0.88" fill="#a6a6a6" />
<circle cx="332.25" cy="251.00" r="1.04" fill="#868686" />
<circle cx="322.01" cy="255.86" r="1.16" fill="#8c8c8c" />
<circle cx="327.52" cy="248.86" r="1.25" fill="#8c8c8c" />
<circle cx="323.80" cy="249.15" r="1.09" fill="#b0b0b0" />
<circle cx="323.65" cy="256.00" r="0.87" fill="#8c8c8c" />
<circle cx="323.03" cy="253.18" r="0.91" fill="#868686" />
<circle cx="318.65" cy="246.07" r="1.32" fill="#b0b0b0" />
<circle cx="324.15" cy="249.32" r="0.91" fill="#9a9a9a" />
<circle cx="318.46" cy="248.84" r="1.21" fill="#868686" />
<circle cx="328.49" cy="250.76" r="0.79" fill="#b0b0b0" />
<circle cx="330.04" cy="250.02" r="1.32" fill="#8c8c8c" />
<circle cx="322.54" cy="249.65" r="1.12" fill="#a6a6a6" />
<circle cx="320.05" cy="241.59" r="1.30" fill="#a6a6a6" />
<circle cx="326.71" cy="244.76" r="1.33" fill="#9a9a9a" />
<circle cx="315.69" cy="251.62" r="1.29" fill="#868686" />
<circle cx="321.42" cy="244.44" r="1.15" fill="#868686" />
<circle cx="318.63" cy="250.73" r="1.03" fill="#9a9a9a" />
<circle cx="317.43" cy="248.00" r="1.08" fill="#868686" />
<circle cx="317.54" cy="252.86" r="0.75" fill="#8c8c8c" />
<circle cx="324.43" cy="258.08" r="1.16" fill="#8c8c8c" />
<circle cx="331.00" cy="251.13" r="1.40" fill="#8c8c8c" />
<circle cx="322.87" cy="248.23" r="0.85" fill="#8c8c8c" />
<circle cx="317.94" cy="242.80" r="1.40" fill="#9a9a9a" />
<circle cx="321.80" cy="244.28" r="1.13" fill="#9a9a9a" />
<circle cx="320.51" cy="251.64" r="0.85" fill="#b0b0b0" />
<circle cx="316.52" cy="247.40" r="0.90" fill="#8c8c8c" />
<circle cx="320.83" cy="248.67" r="1.31" fill="#a6a6a6" />
<circle cx="327.25" cy="254.23" r="1.18" fill="#868686" />
<circle cx="318.22" cy="250.24" r="1.34" fill="#868686" />
<circle cx="326.44" cy="253.49" r="1.14" fill="#b0b0b0" />
<circle cx="314.67" cy="249.58" r="1.08" fill="#b0b0b0" />
<circle cx="323.77" cy="251.88" r="0.88" fill="#9a9a9a" />
<circle cx="323.42" cy="243.50" r="1.27" fill="#9a9a9a" />
<circle cx="327.30" cy="245.40" r="0.83" fill="#a6a6a6" />
<circle cx="321.73" cy="242.80" r="1.10" fill="#8c8c8c" />
<circle cx="331.67" cy="251.80" r="1.12" fill="#b0b0b0" />
<circle cx="324.01" cy="258.44" r="1.37" fill="#a6a6a6" />
<circle cx="328.47" cy="253.96" r="1.21" fill="#b0b0b0" />
<circle cx="326.47" cy="250.98" r="1.18" fill="#a6a6a6" />
<circle cx="323.87" cy="252.67" r="1.27" fill="#a6a6a6" />
<circle cx="323.10" cy="249.50" r="3.80" fill="#777" />
<circle cx="323.00" cy="249.40" r="2.40" fill="#5a5a5a" />
<circle cx="366.00" cy="184.20" r="9.80" fill="#f0909e" />
<circle cx="366.00" cy="184.20" r="8.90" fill="#f49fab" />
<circle cx="366.00" cy="184.20" r="7.40" fill="#f08796" />
<circle cx="366.60" cy="183.80" r="5.00" fill="#ea6a82" />
<circle cx="366.00" cy="250.20" r="9.80" fill="#f0909e" />
<circle cx="366.00" cy="250.20" r="8.90" fill="#f49fab" />
<circle cx="366.00" cy="250.20" r="7.40" fill="#f08796" />
<circle cx="366.60" cy="249.80" r="5.00" fill="#ea6a82" />
<text x="478.00" y="155.60" font-size="7.6" stroke="#231f20" stroke-width="0.12" text-anchor="middle" >VITAL Assay</text>
<line x1="448.20" y1="160.40" x2="448.20" y2="226.30" stroke="#231f20" stroke-width="1.1" />
<line x1="445.80" y1="226.30" x2="448.20" y2="226.30" stroke="#231f20" stroke-width="0.8" />
<text x="443.60" y="228.30" font-size="5.7" stroke="#231f20" stroke-width="0.12" text-anchor="end" >0</text>
<line x1="445.80" y1="213.56" x2="448.20" y2="213.56" stroke="#231f20" stroke-width="0.8" />
<text x="443.60" y="215.56" font-size="5.7" stroke="#231f20" stroke-width="0.12" text-anchor="end" >20</text>
<line x1="445.80" y1="200.82" x2="448.20" y2="200.82" stroke="#231f20" stroke-width="0.8" />
<text x="443.60" y="202.82" font-size="5.7" stroke="#231f20" stroke-width="0.12" text-anchor="end" >40</text>
<line x1="445.80" y1="188.08" x2="448.20" y2="188.08" stroke="#231f20" stroke-width="0.8" />
<text x="443.60" y="190.08" font-size="5.7" stroke="#231f20" stroke-width="0.12" text-anchor="end" >60</text>
<line x1="445.80" y1="175.34" x2="448.20" y2="175.34" stroke="#231f20" stroke-width="0.8" />
<text x="443.60" y="177.34" font-size="5.7" stroke="#231f20" stroke-width="0.12" text-anchor="end" >80</text>
<line x1="445.80" y1="162.60" x2="448.20" y2="162.60" stroke="#231f20" stroke-width="0.8" />
<text x="443.60" y="164.60" font-size="5.7" stroke="#231f20" stroke-width="0.12" text-anchor="end" >100</text>
<line x1="447.80" y1="226.30" x2="507.60" y2="226.30" stroke="#231f20" stroke-width="1.1" />
<line x1="454.00" y1="226.30" x2="454.00" y2="228.80" stroke="#231f20" stroke-width="0.8" />
<text x="456.20" y="235.60" font-size="6.15" stroke="#231f20" stroke-width="0.12" text-anchor="end" transform="rotate(-45 456.20 235.60)" >0.125:1:1</text>
<line x1="462.40" y1="226.30" x2="462.40" y2="228.80" stroke="#231f20" stroke-width="0.8" />
<text x="464.60" y="235.60" font-size="6.15" stroke="#231f20" stroke-width="0.12" text-anchor="end" transform="rotate(-45 464.60 235.60)" >0.25:1:1</text>
<line x1="471.00" y1="226.30" x2="471.00" y2="228.80" stroke="#231f20" stroke-width="0.8" />
<text x="473.20" y="235.60" font-size="6.15" stroke="#231f20" stroke-width="0.12" text-anchor="end" transform="rotate(-45 473.20 235.60)" >0.5:1:1</text>
<line x1="479.60" y1="226.30" x2="479.60" y2="228.80" stroke="#231f20" stroke-width="0.8" />
<text x="481.80" y="235.60" font-size="6.15" stroke="#231f20" stroke-width="0.12" text-anchor="end" transform="rotate(-45 481.80 235.60)" >1:1:1</text>
<line x1="487.90" y1="226.30" x2="487.90" y2="228.80" stroke="#231f20" stroke-width="0.8" />
<text x="490.10" y="235.60" font-size="6.15" stroke="#231f20" stroke-width="0.12" text-anchor="end" transform="rotate(-45 490.10 235.60)" >2:1:1</text>
<line x1="496.40" y1="226.30" x2="496.40" y2="228.80" stroke="#231f20" stroke-width="0.8" />
<text x="498.60" y="235.60" font-size="6.15" stroke="#231f20" stroke-width="0.12" text-anchor="end" transform="rotate(-45 498.60 235.60)" >4:1:1</text>
<line x1="504.80" y1="226.30" x2="504.80" y2="228.80" stroke="#231f20" stroke-width="0.8" />
<text x="507.00" y="235.60" font-size="6.15" stroke="#231f20" stroke-width="0.12" text-anchor="end" transform="rotate(-45 507.00 235.60)" >8:1:1</text>
<line x1="454.00" y1="223.12" x2="454.00" y2="198.91" stroke="#b8384e" stroke-width="0.8" />
<line x1="452.70" y1="223.12" x2="455.30" y2="223.12" stroke="#b8384e" stroke-width="0.7" />
<line x1="452.70" y1="198.91" x2="455.30" y2="198.91" stroke="#b8384e" stroke-width="0.7" />
<line x1="462.40" y1="205.28" x2="462.40" y2="188.08" stroke="#b8384e" stroke-width="0.8" />
<line x1="461.10" y1="205.28" x2="463.70" y2="205.28" stroke="#b8384e" stroke-width="0.7" />
<line x1="461.10" y1="188.08" x2="463.70" y2="188.08" stroke="#b8384e" stroke-width="0.7" />
<line x1="471.00" y1="196.36" x2="471.00" y2="184.26" stroke="#b8384e" stroke-width="0.8" />
<line x1="469.70" y1="196.36" x2="472.30" y2="196.36" stroke="#b8384e" stroke-width="0.7" />
<line x1="469.70" y1="184.26" x2="472.30" y2="184.26" stroke="#b8384e" stroke-width="0.7" />
<line x1="479.60" y1="184.26" x2="479.60" y2="175.34" stroke="#b8384e" stroke-width="0.8" />
<line x1="478.30" y1="184.26" x2="480.90" y2="184.26" stroke="#b8384e" stroke-width="0.7" />
<line x1="478.30" y1="175.34" x2="480.90" y2="175.34" stroke="#b8384e" stroke-width="0.7" />
<line x1="487.90" y1="174.07" x2="487.90" y2="169.61" stroke="#b8384e" stroke-width="0.8" />
<line x1="486.60" y1="174.07" x2="489.20" y2="174.07" stroke="#b8384e" stroke-width="0.7" />
<line x1="486.60" y1="169.61" x2="489.20" y2="169.61" stroke="#b8384e" stroke-width="0.7" />
<line x1="496.40" y1="170.88" x2="496.40" y2="167.06" stroke="#b8384e" stroke-width="0.8" />
<line x1="495.10" y1="170.88" x2="497.70" y2="170.88" stroke="#b8384e" stroke-width="0.7" />
<line x1="495.10" y1="167.06" x2="497.70" y2="167.06" stroke="#b8384e" stroke-width="0.7" />
<line x1="504.80" y1="170.24" x2="504.80" y2="165.79" stroke="#b8384e" stroke-width="0.8" />
<line x1="503.50" y1="170.24" x2="506.10" y2="170.24" stroke="#b8384e" stroke-width="0.7" />
<line x1="503.50" y1="165.79" x2="506.10" y2="165.79" stroke="#b8384e" stroke-width="0.7" />
<polyline points="454.0,212.3 462.4,198.3 471.0,186.8 479.6,175.3 487.9,170.2 496.4,169.0 504.8,169.0" fill="none" stroke="#2f4f4c" stroke-width="1.35"/>
<circle cx="454.00" cy="212.29" r="1.25" fill="#2f4f4c" />
<circle cx="462.40" cy="198.27" r="1.25" fill="#2f4f4c" />
<circle cx="471.00" cy="186.81" r="1.25" fill="#2f4f4c" />
<circle cx="479.60" cy="175.34" r="1.25" fill="#2f4f4c" />
<circle cx="487.90" cy="170.24" r="1.25" fill="#2f4f4c" />
<circle cx="496.40" cy="168.97" r="1.25" fill="#2f4f4c" />
<circle cx="504.80" cy="168.97" r="1.25" fill="#2f4f4c" />
<polyline points="454.0,211.0 462.4,197.6 471.0,184.9 479.6,172.2 487.9,169.6 496.4,168.3 504.8,169.0" fill="none" stroke="#4a2a7a" stroke-width="1.35"/>
<circle cx="454.00" cy="211.01" r="1.25" fill="#4a2a7a" />
<circle cx="462.40" cy="197.64" r="1.25" fill="#4a2a7a" />
<circle cx="471.00" cy="184.90" r="1.25" fill="#4a2a7a" />
<circle cx="479.60" cy="172.16" r="1.25" fill="#4a2a7a" />
<circle cx="487.90" cy="169.61" r="1.25" fill="#4a2a7a" />
<circle cx="496.40" cy="168.33" r="1.25" fill="#4a2a7a" />
<circle cx="504.80" cy="168.97" r="1.25" fill="#4a2a7a" />
<polyline points="454.0,213.6 462.4,197.6 471.0,188.1 479.6,177.9 487.9,171.5 496.4,169.6 504.8,169.0" fill="none" stroke="#3aa050" stroke-width="1.35"/>
<circle cx="454.00" cy="213.56" r="1.25" fill="#3aa050" />
<circle cx="462.40" cy="197.64" r="1.25" fill="#3aa050" />
<circle cx="471.00" cy="188.08" r="1.25" fill="#3aa050" />
<circle cx="479.60" cy="177.89" r="1.25" fill="#3aa050" />
<circle cx="487.90" cy="171.52" r="1.25" fill="#3aa050" />
<circle cx="496.40" cy="169.61" r="1.25" fill="#3aa050" />
<circle cx="504.80" cy="168.97" r="1.25" fill="#3aa050" />
<polyline points="454.0,212.3 462.4,198.9 471.0,189.4 479.6,179.8 487.9,172.2 496.4,169.0 504.8,167.7" fill="none" stroke="#b01c38" stroke-width="1.35"/>
<circle cx="454.00" cy="212.29" r="1.25" fill="#b01c38" />
<circle cx="462.40" cy="198.91" r="1.25" fill="#b01c38" />
<circle cx="471.00" cy="189.35" r="1.25" fill="#b01c38" />
<circle cx="479.60" cy="179.80" r="1.25" fill="#b01c38" />
<circle cx="487.90" cy="172.16" r="1.25" fill="#b01c38" />
<circle cx="496.40" cy="168.97" r="1.25" fill="#b01c38" />
<circle cx="504.80" cy="167.70" r="1.25" fill="#b01c38" />
<line x1="480.80" y1="192.40" x2="488.00" y2="192.40" stroke="#b01c38" stroke-width="1.4" />
<circle cx="484.40" cy="192.40" r="1.30" fill="#b01c38" />
<text x="490.00" y="194.40" font-size="5.8" stroke="#231f20" stroke-width="0.12" >1:2 A</text>
<line x1="480.80" y1="201.60" x2="488.00" y2="201.60" stroke="#3aa050" stroke-width="1.4" />
<circle cx="484.40" cy="201.60" r="1.30" fill="#3aa050" />
<text x="490.00" y="203.60" font-size="5.8" stroke="#231f20" stroke-width="0.12" >1:2 B</text>
<line x1="480.80" y1="209.40" x2="488.00" y2="209.40" stroke="#4a2a7a" stroke-width="1.4" />
<circle cx="484.40" cy="209.40" r="1.30" fill="#4a2a7a" />
<text x="490.00" y="211.40" font-size="5.8" stroke="#231f20" stroke-width="0.12" >MACS</text>
<line x1="480.80" y1="217.60" x2="488.00" y2="217.60" stroke="#2a4a48" stroke-width="1.4" />
<circle cx="484.40" cy="217.60" r="1.30" fill="#2a4a48" />
<text x="490.00" y="219.60" font-size="5.8" stroke="#231f20" stroke-width="0.12" >unpurified</text>
<text transform="translate(416.0,192.4) rotate(-90)" text-anchor="middle" font-size="7.2" fill="#231f20" stroke="#231f20" stroke-width="0.35" textLength="60" lengthAdjust="spacingAndGlyphs">Rel. killing normalized to</text>
<text transform="translate(424.6,192.4) rotate(-90)" text-anchor="middle" font-size="7.2" fill="#231f20" stroke="#231f20" stroke-width="0.35" textLength="60" lengthAdjust="spacingAndGlyphs">wildtype T cell controls (%)</text>
<text x="478.10" y="265.00" font-size="7.9" stroke="#231f20" stroke-width="0.3" text-anchor="middle" textLength="25.4" lengthAdjust="spacingAndGlyphs" >E:T:C ratio</text>
<text x="31.00" y="305.60" font-size="10.5" stroke="#000" stroke-width="0.35" fill="#000" font-weight="bold" >G</text>
<text x="75.50" y="305.70" font-size="7.65" stroke="#231f20" stroke-width="0.12" >Intracellular Cytokine Expression</text>
<text x="64.10" y="325.20" font-size="7.7" stroke="#231f20" stroke-width="0.12" text-anchor="middle" >CAR T</text>
<text x="64.20" y="334.60" font-size="7.7" stroke="#231f20" stroke-width="0.12" text-anchor="middle" >cell</text>
<text x="106.30" y="325.40" font-size="7.7" stroke="#231f20" stroke-width="0.12" text-anchor="middle" >target</text>
<text x="106.30" y="334.60" font-size="7.7" stroke="#231f20" stroke-width="0.12" text-anchor="middle" >cell</text>
<text x="65.00" y="390.20" font-size="7.7" stroke="#231f20" stroke-width="0.12" >co-culture</text>
<text x="110.50" y="380.20" font-size="7.7" stroke="#231f20" stroke-width="0.12" >add</text>
<text x="110.50" y="390.60" font-size="7.7" stroke="#231f20" stroke-width="0.12" >Brefeldin A</text>
<line x1="69.64" y1="338.39" x2="68.19" y2="344.21" stroke="#8ac4d8" stroke-width="1.3" />
<line x1="67.21" y1="337.79" x2="65.76" y2="343.61" stroke="#8ac4d8" stroke-width="1.3" />
<line x1="49.61" y1="343.37" x2="54.33" y2="347.06" stroke="#8ac4d8" stroke-width="1.3" />
<line x1="48.07" y1="345.34" x2="52.79" y2="349.03" stroke="#8ac4d8" stroke-width="1.3" />
<line x1="51.05" y1="362.62" x2="45.57" y2="365.06" stroke="#8ac4d8" stroke-width="1.3" />
<line x1="50.03" y1="360.34" x2="44.55" y2="362.78" stroke="#8ac4d8" stroke-width="1.3" />
<line x1="62.46" y1="371.10" x2="61.62" y2="377.04" stroke="#8ac4d8" stroke-width="1.3" />
<line x1="59.98" y1="370.76" x2="59.14" y2="376.70" stroke="#8ac4d8" stroke-width="1.3" />
<line x1="75.06" y1="365.69" x2="79.31" y2="369.94" stroke="#8ac4d8" stroke-width="1.3" />
<line x1="73.29" y1="367.46" x2="77.54" y2="371.71" stroke="#8ac4d8" stroke-width="1.3" />
<circle cx="63.40" cy="355.80" r="11.90" fill="#d2ecf5" />
<circle cx="63.40" cy="355.80" r="11.00" fill="#2e98c6" />
<circle cx="63.40" cy="355.80" r="10.20" fill="#3eaad4" />
<circle cx="63.40" cy="355.80" r="8.40" fill="#46b0d8" />
<ellipse cx="62.2" cy="354.6" rx="4.6" ry="5.0" fill="#2288bf"/>
<ellipse cx="62.8" cy="354.2" rx="1.4" ry="3.4" transform="rotate(-20 62.8 354.2)" fill="#1a70a6" opacity="0.8"/>
<line x1="76.60" y1="352.60" x2="82.40" y2="350.40" stroke="#1f6c6c" stroke-width="1.4" />
<line x1="77.20" y1="354.40" x2="83.00" y2="352.20" stroke="#2f8a8a" stroke-width="1.4" />
<text x="85.40" y="348.00" font-size="9" stroke="#231f20" stroke-width="0.12" text-anchor="middle" >+</text>
<line x1="88.10" y1="351.60" x2="96.20" y2="353.90" stroke="#d01830" stroke-width="1.9" />
<line x1="118.70" y1="344.50" x2="123.90" y2="338.50" stroke="#eb8e9e" stroke-width="1.5" />
<line x1="107.40" y1="369.60" x2="106.80" y2="377.40" stroke="#eb8e9e" stroke-width="1.5" />
<circle cx="110.00" cy="356.80" r="12.30" fill="#b9dadd" />
<circle cx="110.00" cy="356.80" r="11.30" fill="#cbe7ea" />
<circle cx="110.00" cy="356.80" r="8.60" fill="#b6dde0" />
<circle cx="108.60" cy="357.40" r="6.10" fill="#42b2b2" />
<path d="M80.7,361.0 C84.5,366 88,372 88.4,380.4" fill="none" stroke="#231f20" stroke-width="1.1" />
<path d="M97.0,361.0 C93.5,366 90.4,372 89.6,380.4" fill="none" stroke="#231f20" stroke-width="1.1" />
<polygon points="86.5,378.8 88.7,383.4 90.4,378.4" fill="#231f20"/>
<polygon points="87.8,378.4 89.5,383.4 91.7,378.8" fill="#231f20"/>
<line x1="55.40" y1="410.60" x2="216.50" y2="410.60" stroke="#231f20" stroke-width="1.1" />
<polygon points="214.8,408.3 219.2,410.6 214.8,412.9" fill="#231f20"/>
<line x1="89.00" y1="407.20" x2="89.00" y2="410.60" stroke="#231f20" stroke-width="0.7" />
<circle cx="89.00" cy="407.20" r="1.00" fill="#231f20" />
<text x="89.00" y="420.40" font-size="7.4" stroke="#231f20" stroke-width="0.12" text-anchor="middle" >Start</text>
<line x1="128.50" y1="407.20" x2="128.50" y2="410.60" stroke="#231f20" stroke-width="0.7" />
<circle cx="128.50" cy="407.20" r="1.00" fill="#231f20" />
<text x="128.50" y="420.40" font-size="7.4" stroke="#231f20" stroke-width="0.12" text-anchor="middle" >1h</text>
<line x1="190.00" y1="407.20" x2="190.00" y2="410.60" stroke="#231f20" stroke-width="0.7" />
<circle cx="190.00" cy="407.20" r="1.00" fill="#231f20" />
<text x="190.00" y="420.40" font-size="7.4" stroke="#231f20" stroke-width="0.12" text-anchor="middle" >16h</text>
<text x="183.60" y="325.60" font-size="7.7" stroke="#231f20" stroke-width="0.12" text-anchor="middle" >Flow Cytometry</text>
<text x="183.80" y="334.90" font-size="7.65" stroke="#231f20" stroke-width="0.12" text-anchor="middle" >(intrac. staining)</text>
<line x1="170.00" y1="342.50" x2="170.00" y2="386.60" stroke="#231f20" stroke-width="0.9" />
<line x1="168.00" y1="386.60" x2="170.00" y2="386.60" stroke="#231f20" stroke-width="0.7" />
<text x="166.60" y="388.60" font-size="5.8" stroke="#231f20" stroke-width="0.12" text-anchor="end" >0</text>
<line x1="168.00" y1="378.02" x2="170.00" y2="378.02" stroke="#231f20" stroke-width="0.7" />
<text x="166.60" y="380.02" font-size="5.8" stroke="#231f20" stroke-width="0.12" text-anchor="end" >200</text>
<line x1="168.00" y1="369.44" x2="170.00" y2="369.44" stroke="#231f20" stroke-width="0.7" />
<text x="166.60" y="371.44" font-size="5.8" stroke="#231f20" stroke-width="0.12" text-anchor="end" >400</text>
<line x1="168.00" y1="360.86" x2="170.00" y2="360.86" stroke="#231f20" stroke-width="0.7" />
<text x="166.60" y="362.86" font-size="5.8" stroke="#231f20" stroke-width="0.12" text-anchor="end" >600</text>
<line x1="168.00" y1="352.28" x2="170.00" y2="352.28" stroke="#231f20" stroke-width="0.7" />
<text x="166.60" y="354.28" font-size="5.8" stroke="#231f20" stroke-width="0.12" text-anchor="end" >800</text>
<line x1="168.00" y1="343.70" x2="170.00" y2="343.70" stroke="#231f20" stroke-width="0.7" />
<text x="166.60" y="345.70" font-size="5.8" stroke="#231f20" stroke-width="0.12" text-anchor="end" >1000</text>
<line x1="170.00" y1="386.60" x2="215.30" y2="386.60" stroke="#231f20" stroke-width="0.9" />
<line x1="170.00" y1="386.60" x2="170.00" y2="388.60" stroke="#231f20" stroke-width="0.7" />
<text x="172.60" y="395.40" font-size="5.9" stroke="#231f20" stroke-width="0.12" text-anchor="end" transform="rotate(-45 172.60 395.40)" >0</text>
<line x1="178.66" y1="386.60" x2="178.66" y2="388.60" stroke="#231f20" stroke-width="0.7" />
<text x="181.26" y="395.40" font-size="5.9" stroke="#231f20" stroke-width="0.12" text-anchor="end" transform="rotate(-45 181.26 395.40)" >200</text>
<line x1="187.32" y1="386.60" x2="187.32" y2="388.60" stroke="#231f20" stroke-width="0.7" />
<text x="189.92" y="395.40" font-size="5.9" stroke="#231f20" stroke-width="0.12" text-anchor="end" transform="rotate(-45 189.92 395.40)" >400</text>
<line x1="195.98" y1="386.60" x2="195.98" y2="388.60" stroke="#231f20" stroke-width="0.7" />
<text x="198.58" y="395.40" font-size="5.9" stroke="#231f20" stroke-width="0.12" text-anchor="end" transform="rotate(-45 198.58 395.40)" >600</text>
<line x1="204.64" y1="386.60" x2="204.64" y2="388.60" stroke="#231f20" stroke-width="0.7" />
<text x="207.24" y="395.40" font-size="5.9" stroke="#231f20" stroke-width="0.12" text-anchor="end" transform="rotate(-45 207.24 395.40)" >800</text>
<line x1="213.30" y1="386.60" x2="213.30" y2="388.60" stroke="#231f20" stroke-width="0.7" />
<text x="215.90" y="395.40" font-size="5.9" stroke="#231f20" stroke-width="0.12" text-anchor="end" transform="rotate(-45 215.90 395.40)" >1000</text>
<path d="M172.6,372.4 C173.6,368.4 186,368.6 191.4,371.2 C193.6,373.2 190,381 186.4,383.6 C182.6,386.4 176.6,385 174.2,381.4 C172.4,378.4 172,375 172.6,372.4 Z" fill="#1c2c96"/>
<path d="M172.6,372.4 C173.6,368.4 186,368.6 191.4,371.2 C193.6,373.2 190,381 186.4,383.6 C182.6,386.4 176.6,385 174.2,381.4 C172.4,378.4 172,375 172.6,372.4 Z" fill="#2a6ad6" transform="translate(182 376.6) scale(0.84) translate(-182 -376.6)"/>
<path d="M172.6,372.4 C173.6,368.4 186,368.6 191.4,371.2 C193.6,373.2 190,381 186.4,383.6 C182.6,386.4 176.6,385 174.2,381.4 C172.4,378.4 172,375 172.6,372.4 Z" fill="#3ac4e4" transform="translate(182 376.4) scale(0.64) translate(-182 -376.4)"/>
<path d="M172.6,372.4 C173.6,368.4 186,368.6 191.4,371.2 C193.6,373.2 190,381 186.4,383.6 C182.6,386.4 176.6,385 174.2,381.4 C172.4,378.4 172,375 172.6,372.4 Z" fill="#c2e23a" transform="translate(181.8 376.2) scale(0.44) translate(-181.8 -376.2)"/>
<path d="M172.6,372.4 C173.6,368.4 186,368.6 191.4,371.2 C193.6,373.2 190,381 186.4,383.6 C182.6,386.4 176.6,385 174.2,381.4 C172.4,378.4 172,375 172.6,372.4 Z" fill="#f29a22" transform="translate(181.6 376) scale(0.3) translate(-181.6 -376)"/>
<circle cx="181.40" cy="375.80" r="1.40" fill="#e0201c" />
<ellipse cx="199.8" cy="364.2" rx="7.4" ry="4.6" transform="rotate(-42 199.8 364.2)" fill="#1c2c96"/>
<ellipse cx="199.8" cy="364.2" rx="6.2" ry="3.6" transform="rotate(-42 199.8 364.2)" fill="#2a6ad6"/>
<ellipse cx="199.8" cy="364.2" rx="4.4" ry="2.4" transform="rotate(-42 199.8 364.2)" fill="#38c0d8"/>
<ellipse cx="199.8" cy="364.2" rx="2.6" ry="1.3" transform="rotate(-42 199.8 364.2)" fill="#4ad6c8"/>
<circle cx="314.60" cy="343.30" r="15.40" fill="#e6e6e8" />
<path d="M314.60,343.30 L314.60,327.90 A15.4,15.4 0 0 1 323.21,330.53 Z" fill="#141414"/>
<path d="M314.60,343.30 L323.21,330.53 A15.4,15.4 0 0 1 324.90,354.74 Z" fill="#5f5e64"/>
<path d="M314.60,343.30 L324.90,354.74 A15.4,15.4 0 0 1 312.46,358.55 Z" fill="#b7b7bc"/>
<path d="M314.60,325.40 A17.9,17.9 0 0 1 324.87,357.96" fill="none" stroke="#f3c232" stroke-width="1.5"/>
<path d="M315.85,361.16 A17.9,17.9 0 0 1 312.73,361.10" fill="none" stroke="#f3c232" stroke-width="1.5"/>
<path d="M314.60,323.50 A19.8,19.8 0 0 1 327.85,328.59" fill="none" stroke="#ec9030" stroke-width="1.25"/>
<path d="M314.60,321.30 A22.0,22.0 0 0 1 317.66,365.09" fill="none" stroke="#1f4a7c" stroke-width="1.35"/>
<circle cx="365.20" cy="343.30" r="15.40" fill="#e6e6e8" />
<path d="M365.20,343.30 L365.20,327.90 A15.4,15.4 0 0 1 372.90,329.96 Z" fill="#141414"/>
<path d="M365.20,343.30 L372.90,329.96 A15.4,15.4 0 0 1 374.03,355.91 Z" fill="#5f5e64"/>
<path d="M365.20,343.30 L374.03,355.91 A15.4,15.4 0 0 1 357.04,356.36 Z" fill="#b7b7bc"/>
<path d="M365.20,325.40 A17.9,17.9 0 0 1 375.47,357.96" fill="none" stroke="#f3c232" stroke-width="1.5"/>
<path d="M360.27,360.51 A17.9,17.9 0 0 1 356.25,358.80" fill="none" stroke="#f3c232" stroke-width="1.5"/>
<path d="M365.20,323.50 A19.8,19.8 0 0 1 382.35,333.40" fill="none" stroke="#ec9030" stroke-width="1.25"/>
<path d="M365.20,321.30 A22.0,22.0 0 1 1 362.52,365.14" fill="none" stroke="#1f4a7c" stroke-width="1.35"/>
<circle cx="416.00" cy="343.30" r="15.40" fill="#e6e6e8" />
<path d="M416.00,343.30 L416.00,327.90 A15.4,15.4 0 0 1 422.51,329.34 Z" fill="#141414"/>
<path d="M416.00,343.30 L422.51,329.34 A15.4,15.4 0 0 1 425.90,355.10 Z" fill="#5f5e64"/>
<path d="M416.00,343.30 L425.90,355.10 A15.4,15.4 0 0 1 408.30,356.64 Z" fill="#b7b7bc"/>
<path d="M416.00,325.40 A17.9,17.9 0 0 1 427.51,357.01" fill="none" stroke="#f3c232" stroke-width="1.5"/>
<path d="M412.89,360.93 A17.9,17.9 0 0 1 408.44,359.52" fill="none" stroke="#f3c232" stroke-width="1.5"/>
<path d="M416.00,323.50 A19.8,19.8 0 0 1 432.22,331.94" fill="none" stroke="#ec9030" stroke-width="1.25"/>
<path d="M416.00,321.30 A22.0,22.0 0 0 1 419.06,365.09" fill="none" stroke="#1f4a7c" stroke-width="1.35"/>
<circle cx="466.30" cy="343.30" r="15.40" fill="#e6e6e8" />
<path d="M466.30,343.30 L466.30,327.90 A15.4,15.4 0 0 1 475.13,330.69 Z" fill="#141414"/>
<path d="M466.30,343.30 L475.13,330.69 A15.4,15.4 0 0 1 474.00,356.64 Z" fill="#5f5e64"/>
<path d="M466.30,343.30 L474.00,356.64 A15.4,15.4 0 0 1 458.14,356.36 Z" fill="#b7b7bc"/>
<path d="M466.30,325.40 A17.9,17.9 0 0 1 475.25,358.80" fill="none" stroke="#f3c232" stroke-width="1.5"/>
<path d="M461.67,360.59 A17.9,17.9 0 0 1 457.35,358.80" fill="none" stroke="#f3c232" stroke-width="1.5"/>
<path d="M466.30,323.50 A19.8,19.8 0 0 1 483.45,333.40" fill="none" stroke="#ec9030" stroke-width="1.25"/>
<path d="M466.30,321.30 A22.0,22.0 0 1 1 464.00,365.18" fill="none" stroke="#1f4a7c" stroke-width="1.35"/>
<circle cx="314.60" cy="393.00" r="15.40" fill="#e6e6e8" />
<path d="M314.60,393.00 L314.60,377.60 A15.4,15.4 0 0 1 320.86,378.93 Z" fill="#141414"/>
<path d="M314.60,393.00 L320.86,378.93 A15.4,15.4 0 0 1 330.00,393.00 Z" fill="#5f5e64"/>
<path d="M314.60,393.00 L330.00,393.00 A15.4,15.4 0 0 1 319.87,407.47 Z" fill="#b7b7bc"/>
<path d="M314.60,375.10 A17.9,17.9 0 0 1 320.72,409.82" fill="none" stroke="#f3c232" stroke-width="1.5"/>
<path d="M314.60,373.20 A19.8,19.8 0 0 1 322.02,374.64" fill="none" stroke="#ec9030" stroke-width="1.25"/>
<path d="M334.10,396.44 A19.8,19.8 0 0 1 324.50,410.15" fill="none" stroke="#ec9030" stroke-width="1.25"/>
<path d="M314.60,371.00 A22.0,22.0 0 0 1 336.12,388.43" fill="none" stroke="#1f4a7c" stroke-width="1.35"/>
<path d="M336.55,391.47 A22.0,22.0 0 0 1 336.27,396.82" fill="none" stroke="#1f4a7c" stroke-width="1.35"/>
<circle cx="365.20" cy="393.00" r="15.40" fill="#e6e6e8" />
<path d="M365.20,393.00 L365.20,377.60 A15.4,15.4 0 0 1 368.40,377.94 Z" fill="#141414"/>
<path d="M365.20,393.00 L368.40,377.94 A15.4,15.4 0 0 1 378.54,385.30 Z" fill="#5f5e64"/>
<path d="M365.20,393.00 L378.54,385.30 A15.4,15.4 0 0 1 371.71,406.96 Z" fill="#b7b7bc"/>
<path d="M365.20,375.10 A17.9,17.9 0 0 1 374.15,408.50" fill="none" stroke="#f3c232" stroke-width="1.5"/>
<path d="M365.20,373.20 A19.8,19.8 0 0 1 377.93,377.83" fill="none" stroke="#ec9030" stroke-width="1.25"/>
<path d="M383.81,386.23 A19.8,19.8 0 0 1 383.56,400.42" fill="none" stroke="#ec9030" stroke-width="1.25"/>
<path d="M365.20,371.00 A22.0,22.0 0 0 1 382.05,378.86" fill="none" stroke="#1f4a7c" stroke-width="1.35"/>
<path d="M383.86,381.34 A22.0,22.0 0 0 1 385.87,385.48" fill="none" stroke="#1f4a7c" stroke-width="1.35"/>
<circle cx="416.00" cy="393.00" r="15.40" fill="#e6e6e8" />
<path d="M416.00,393.00 L416.00,377.60 A15.4,15.4 0 0 1 418.67,377.83 Z" fill="#141414"/>
<path d="M416.00,393.00 L418.67,377.83 A15.4,15.4 0 0 1 429.34,385.30 Z" fill="#5f5e64"/>
<path d="M416.00,393.00 L429.34,385.30 A15.4,15.4 0 0 1 423.70,406.34 Z" fill="#b7b7bc"/>
<path d="M416.00,375.10 A17.9,17.9 0 0 1 424.95,408.50" fill="none" stroke="#f3c232" stroke-width="1.5"/>
<path d="M416.00,373.20 A19.8,19.8 0 0 1 430.00,379.00" fill="none" stroke="#ec9030" stroke-width="1.25"/>
<path d="M434.61,386.23 A19.8,19.8 0 0 1 434.36,400.42" fill="none" stroke="#ec9030" stroke-width="1.25"/>
<path d="M416.00,371.00 A22.0,22.0 0 0 1 432.85,378.86" fill="none" stroke="#1f4a7c" stroke-width="1.35"/>
<path d="M435.05,382.00 A22.0,22.0 0 0 1 436.92,386.20" fill="none" stroke="#1f4a7c" stroke-width="1.35"/>
<circle cx="466.30" cy="393.00" r="15.40" fill="#e6e6e8" />
<path d="M466.30,393.00 L466.30,377.60 A15.4,15.4 0 0 1 470.29,378.12 Z" fill="#141414"/>
<path d="M466.30,393.00 L470.29,378.12 A15.4,15.4 0 0 1 481.64,391.66 Z" fill="#5f5e64"/>
<path d="M466.30,393.00 L481.64,391.66 A15.4,15.4 0 0 1 471.57,407.47 Z" fill="#b7b7bc"/>
<path d="M466.30,375.10 A17.9,17.9 0 0 1 473.86,409.22" fill="none" stroke="#f3c232" stroke-width="1.5"/>
<path d="M466.30,373.20 A19.8,19.8 0 0 1 481.47,380.27" fill="none" stroke="#ec9030" stroke-width="1.25"/>
<path d="M486.10,393.00 A19.8,19.8 0 0 1 483.09,403.49" fill="none" stroke="#ec9030" stroke-width="1.25"/>
<path d="M466.30,371.00 A22.0,22.0 0 0 1 486.40,384.05" fill="none" stroke="#1f4a7c" stroke-width="1.35"/>
<path d="M487.65,387.68 A22.0,22.0 0 0 1 487.97,396.82" fill="none" stroke="#1f4a7c" stroke-width="1.35"/>
<circle cx="262.20" cy="343.80" r="15.40" fill="#e6e6e8" />
<path d="M262.20,343.80 L262.20,328.40 A15.4,15.4 0 0 1 262.63,328.41 Z" fill="#9a9a9a"/>
<circle cx="262.20" cy="392.90" r="15.40" fill="#e6e6e8" />
<path d="M262.20,392.90 L262.20,377.50 A15.4,15.4 0 0 1 262.63,377.51 Z" fill="#9a9a9a"/>
<text x="262.40" y="374.20" font-size="4" stroke="#c8a040" stroke-width="0.12" text-anchor="middle" fill="#c8a040" >&#8249;</text>
<text x="261.00" y="307.60" font-size="7.6" stroke="#231f20" stroke-width="0.12" text-anchor="middle" >CAR<tspan font-size="5.2" dy="-3">&#8722;</tspan></text>
<line x1="243.00" y1="310.20" x2="279.00" y2="310.20" stroke="#231f20" stroke-width="1.1" />
<text x="262.30" y="318.80" font-size="7.6" stroke="#231f20" stroke-width="0.12" text-anchor="middle" >mock-E'</text>
<text x="392.60" y="307.20" font-size="7.6" stroke="#231f20" stroke-width="0.12" text-anchor="middle" >CAR<tspan font-size="5.2" dy="-3">+</tspan></text>
<line x1="295.30" y1="310.00" x2="489.10" y2="310.00" stroke="#231f20" stroke-width="1.1" />
<text x="315.00" y="318.80" font-size="7.6" stroke="#231f20" stroke-width="0.12" text-anchor="middle" >unpurified</text>
<text x="366.10" y="318.80" font-size="7.6" stroke="#231f20" stroke-width="0.12" text-anchor="middle" >MACS</text>
<text x="416.10" y="318.80" font-size="7.6" stroke="#231f20" stroke-width="0.12" text-anchor="middle" >1:2A</text>
<text x="467.00" y="318.80" font-size="7.6" stroke="#231f20" stroke-width="0.12" text-anchor="middle" >1:2B</text>
<text x="239.20" y="343.80" font-size="7.6" stroke="#231f20" stroke-width="0.12" text-anchor="middle" transform="rotate(-90 239.20 343.80)" >CD4</text>
<text x="239.20" y="391.30" font-size="7.6" stroke="#231f20" stroke-width="0.12" text-anchor="middle" transform="rotate(-90 239.20 391.30)" >CD8</text>
<rect x="237.20" y="418.80" width="8.70" height="2.40" fill="#141414" />
<text x="248.70" y="421.60" font-size="5.4" stroke="#231f20" stroke-width="0.12" >3x cytokine<tspan font-size="3.6" dy="-2">+</tspan></text>
<rect x="287.60" y="418.80" width="8.10" height="2.40" fill="#5f5e64" />
<text x="298.30" y="421.60" font-size="5.4" stroke="#231f20" stroke-width="0.12" >2x cytokine<tspan font-size="3.6" dy="-2">+</tspan></text>
<rect x="336.60" y="418.80" width="8.70" height="2.40" fill="#c4c4c8" />
<text x="348.20" y="421.60" font-size="5.4" stroke="#231f20" stroke-width="0.12" >1x cytokine<tspan font-size="3.6" dy="-2">+</tspan></text>
<rect x="386.70" y="418.80" width="8.70" height="2.40" fill="#1f4a7c" />
<text x="397.40" y="421.60" font-size="5.4" stroke="#231f20" stroke-width="0.12" >TNF&#945;<tspan font-size="3.6" dy="-2">+</tspan></text>
<rect x="423.30" y="418.80" width="8.70" height="2.40" fill="#ec9030" />
<text x="434.00" y="421.60" font-size="5.4" stroke="#231f20" stroke-width="0.12" >IL-2<tspan font-size="3.6" dy="-2">+</tspan></text>
<rect x="456.50" y="418.80" width="8.00" height="2.40" fill="#f3c232" />
<text x="466.50" y="421.60" font-size="5.4" stroke="#231f20" stroke-width="0.12" >IFN-&#947;<tspan font-size="3.6" dy="-2">+</tspan></text>
<rect x="0" y="0" width="520" height="1.15" fill="#5e5e5e"/>
<rect x="0" y="427.85" width="520" height="1.15" fill="#5e5e5e"/>
<rect x="0" y="0" width="1.15" height="429" fill="#5e5e5e"/>
<rect x="518.7" y="0" width="1.3" height="429" fill="#5e5e5e"/>
</g>
</svg></div></body></html>
